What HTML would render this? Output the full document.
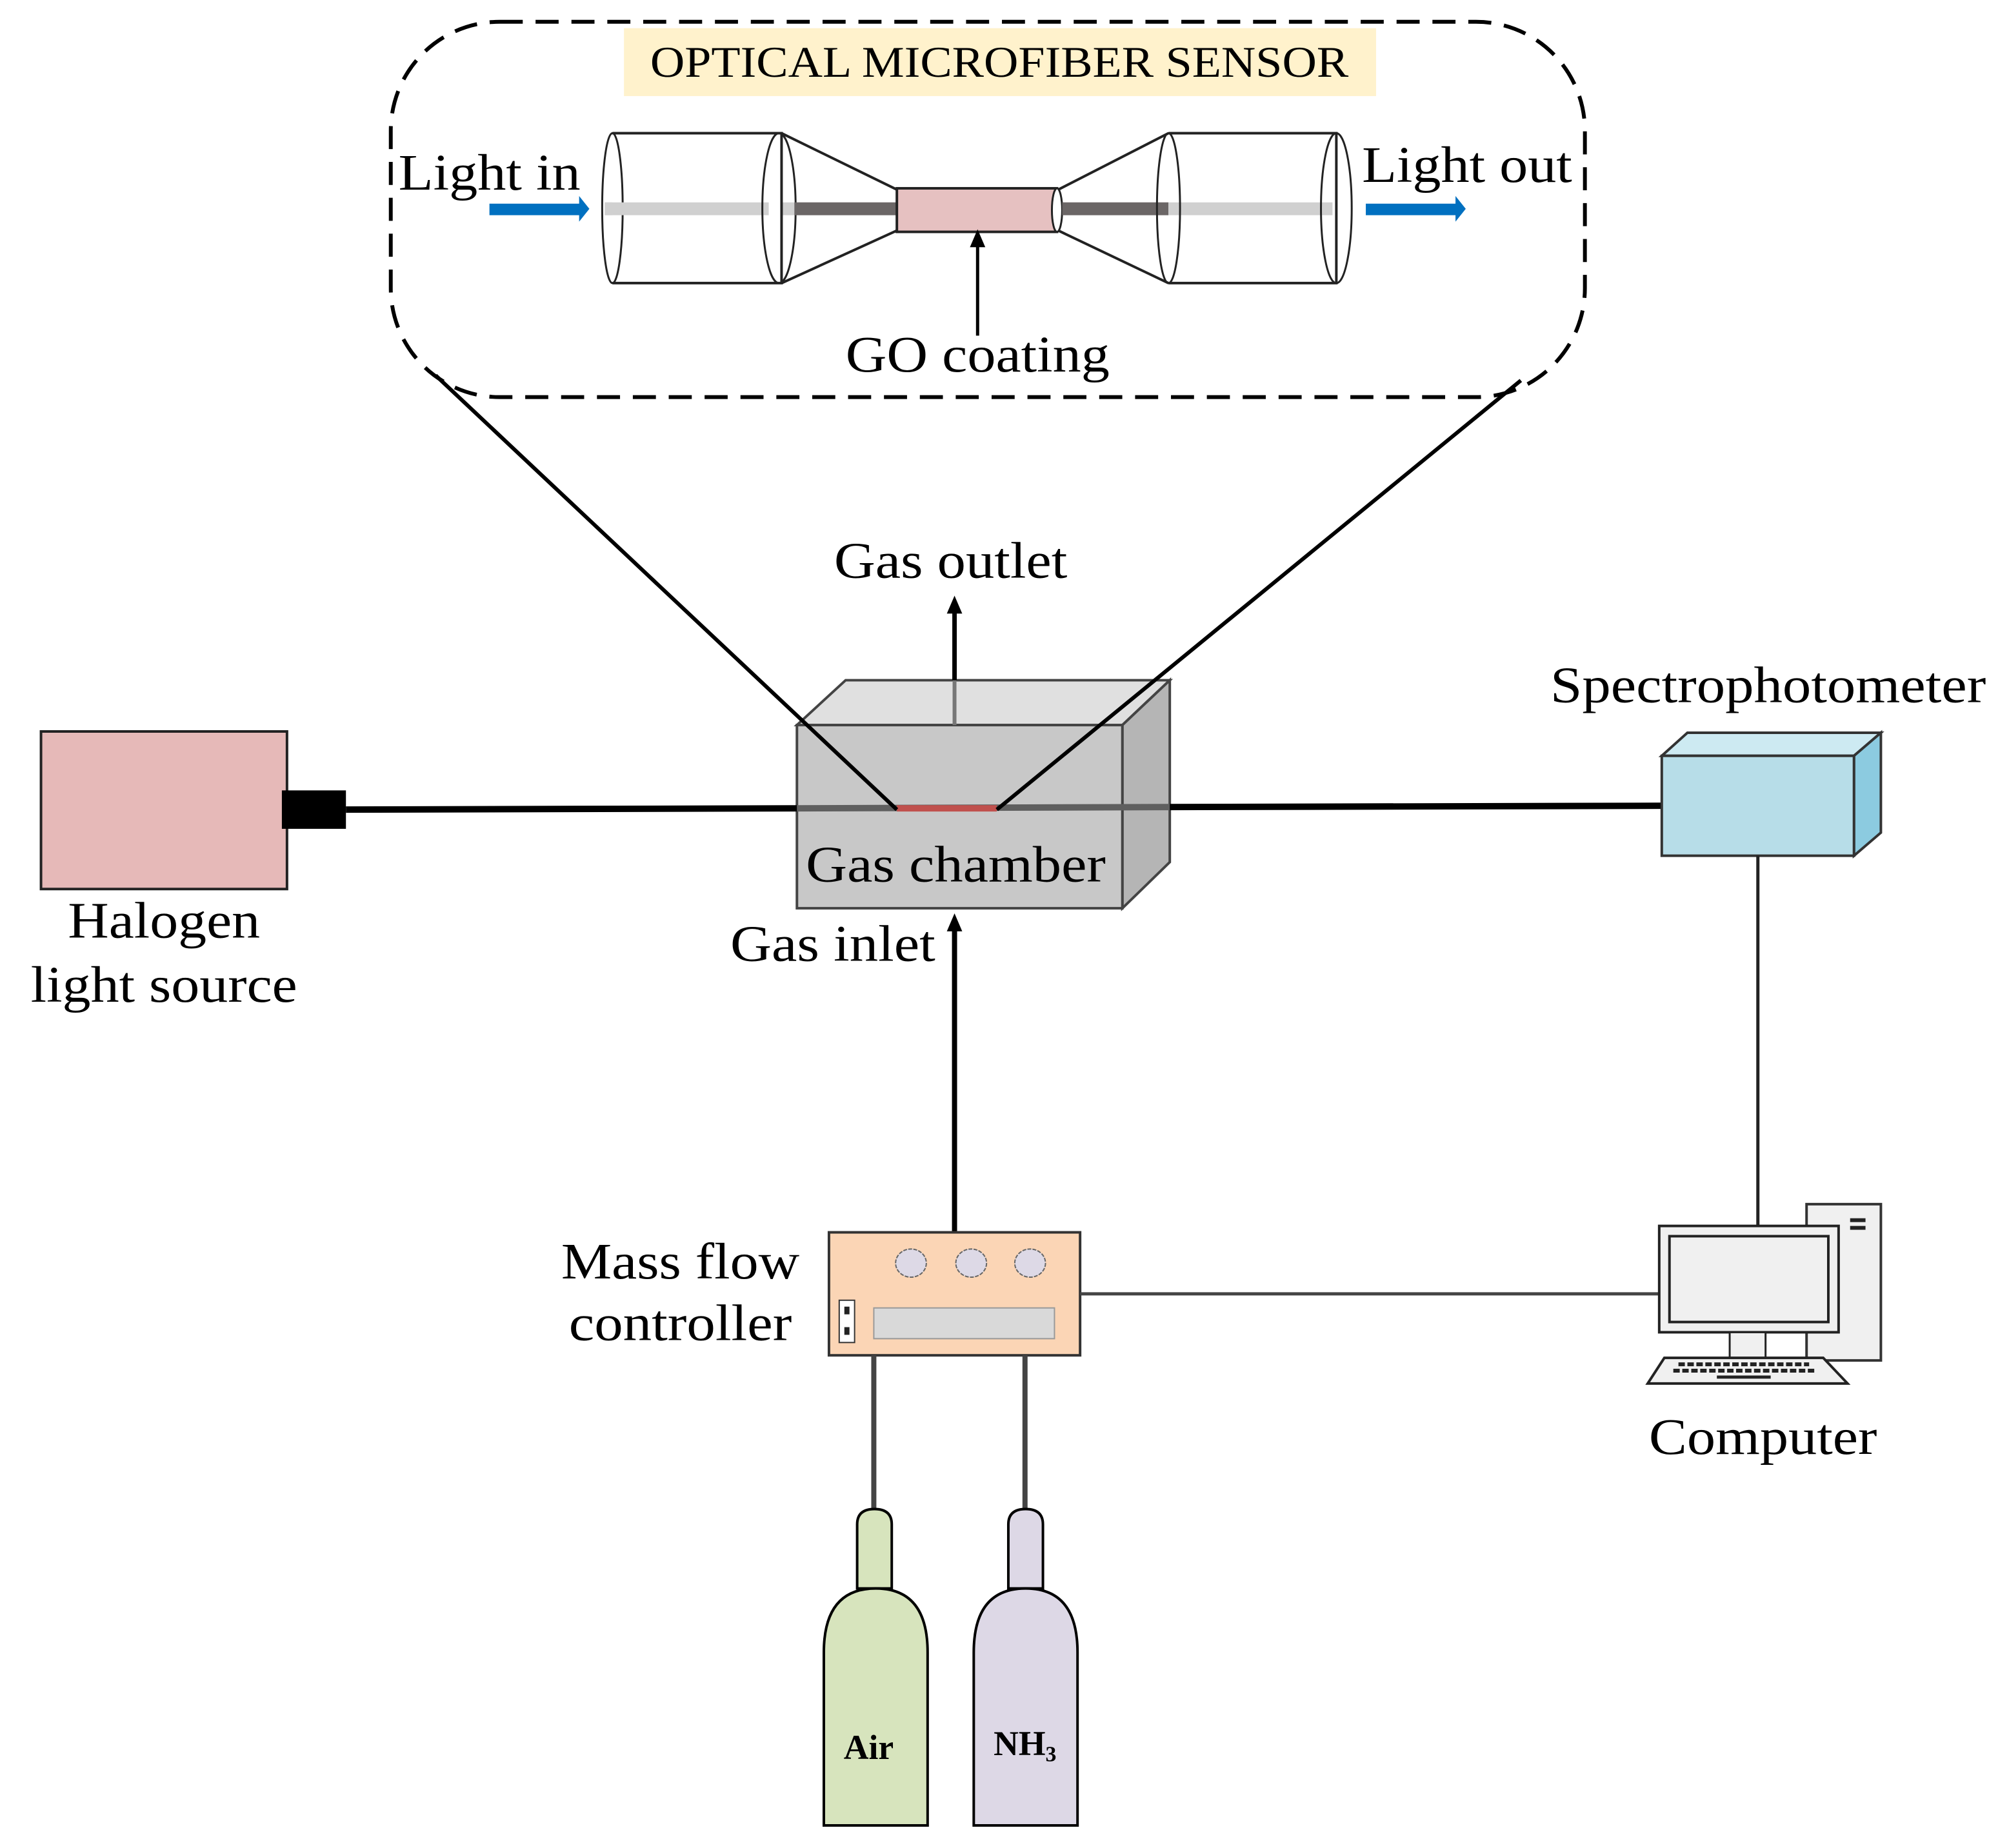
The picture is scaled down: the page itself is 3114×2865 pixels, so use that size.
<!DOCTYPE html>
<html><head><meta charset="utf-8"><style>
html,body{margin:0;padding:0;background:#fff}
svg{display:block}
text{font-family:"Liberation Serif",serif;fill:#000}
</style></head><body>
<svg width="3114" height="2865" viewBox="0 0 1568 1442.6" preserveAspectRatio="none" xmlns="http://www.w3.org/2000/svg">
<defs>
<marker id="ah" markerWidth="14" markerHeight="14" refX="7" refY="7" orient="auto" markerUnits="userSpaceOnUse" viewBox="0 0 14 14"><path d="M0,1 L14,7 L0,13 z" fill="#000"/></marker>
</defs>
<rect x="305" y="17" width="932" height="293" rx="85" ry="85" fill="none" stroke="#000" stroke-width="3" stroke-dasharray="18,10"/>
<rect x="487" y="22" width="587" height="53" fill="#fff2cc"/>
<text x="780" y="60" font-size="34" text-anchor="middle" textLength="545" lengthAdjust="spacingAndGlyphs">OPTICAL MICROFIBER SENSOR</text>
<line x1="472" y1="163" x2="1040" y2="163" stroke="#d0d0d0" stroke-width="10"/>
<path d="M478,104 L610,104 L610,221 L478,221" fill="#fff" stroke="#222" stroke-width="2"/>
<ellipse cx="478" cy="162.5" rx="8" ry="58.5" fill="none" stroke="#222" stroke-width="1.5"/>
<line x1="472" y1="163" x2="600" y2="163" stroke="#d0d0d0" stroke-width="10"/>
<ellipse cx="608" cy="162.5" rx="13" ry="58.5" fill="none" stroke="#222" stroke-width="1.5"/>
<path d="M610,104 L700,148 M610,221 L700,180" stroke="#222" stroke-width="2"/>
<line x1="620" y1="163" x2="700" y2="163" stroke="#6b6666" stroke-width="10"/>
<rect x="700" y="147" width="125" height="34" fill="#e6c1c1" stroke="#222" stroke-width="2"/>
<ellipse cx="825" cy="164" rx="4" ry="17" fill="#fff" stroke="#222" stroke-width="1.5"/>
<path d="M826,148 L912,104 M826,180 L912,221" stroke="#222" stroke-width="2"/>
<line x1="829" y1="163" x2="912" y2="163" stroke="#6b6666" stroke-width="10"/>
<path d="M912,104 L1043,104 L1043,221 L912,221" fill="#fff" stroke="#222" stroke-width="2"/>
<line x1="912" y1="163" x2="1040" y2="163" stroke="#d0d0d0" stroke-width="10"/>
<ellipse cx="912" cy="162.5" rx="9" ry="58.5" fill="none" stroke="#222" stroke-width="1.5"/>
<ellipse cx="1043" cy="162.5" rx="12" ry="58.5" fill="none" stroke="#222" stroke-width="1.5"/>
<path d="M382,159 L452,159 L452,153 L460,163 L452,173 L452,168 L382,168 z" fill="#0070c0"/>
<path d="M1066,159 L1136,159 L1136,153 L1144,163 L1136,173 L1136,168 L1066,168 z" fill="#0070c0"/>
<text x="311" y="148" font-size="40" textLength="142" lengthAdjust="spacingAndGlyphs">Light in</text>
<text x="1063" y="142" font-size="40" textLength="164" lengthAdjust="spacingAndGlyphs">Light out</text>
<line x1="763" y1="262" x2="763" y2="186" stroke="#000" stroke-width="2.5" marker-end="url(#ah)"/>
<text x="763" y="290" font-size="40" text-anchor="middle" textLength="206" lengthAdjust="spacingAndGlyphs">GO coating</text>
<polygon points="622,566 660,531 913,531 876,566" fill="#e0e0e0" stroke="#444" stroke-width="2"/>
<polygon points="876,566 913,531 913,673 876,709" fill="#b5b5b5" stroke="#444" stroke-width="2"/>
<rect x="622" y="566" width="254" height="143" fill="#c8c8c8" stroke="#444" stroke-width="2"/>
<line x1="745" y1="531" x2="745" y2="566" stroke="#777" stroke-width="3"/>
<line x1="270" y1="632" x2="622" y2="631" stroke="#000" stroke-width="5"/>
<line x1="622" y1="631" x2="913" y2="630" stroke="#5f5f5f" stroke-width="5"/>
<line x1="913" y1="630" x2="1297" y2="629" stroke="#000" stroke-width="5"/>
<line x1="700" y1="631" x2="778" y2="631" stroke="#c0504d" stroke-width="5"/>
<line x1="340" y1="293" x2="700" y2="632" stroke="#000" stroke-width="3"/>
<line x1="1187" y1="297" x2="778" y2="632" stroke="#000" stroke-width="3"/>
<line x1="745" y1="531" x2="745" y2="472" stroke="#000" stroke-width="3.5" marker-end="url(#ah)"/>
<text x="742" y="451" font-size="40" text-anchor="middle" textLength="182" lengthAdjust="spacingAndGlyphs">Gas outlet</text>
<text x="746" y="688" font-size="40" text-anchor="middle" textLength="234" lengthAdjust="spacingAndGlyphs">Gas chamber</text>
<line x1="745" y1="962" x2="745" y2="720" stroke="#000" stroke-width="4" marker-end="url(#ah)"/>
<text x="650" y="750" font-size="40" text-anchor="middle" textLength="160" lengthAdjust="spacingAndGlyphs">Gas inlet</text>
<rect x="32" y="571" width="192" height="123" fill="#e6b9b8" stroke="#222" stroke-width="2"/>
<rect x="220" y="617" width="50" height="30" fill="#000"/>
<text x="128" y="732" font-size="40" text-anchor="middle" textLength="150" lengthAdjust="spacingAndGlyphs">Halogen</text>
<text x="128" y="782" font-size="40" text-anchor="middle" textLength="208" lengthAdjust="spacingAndGlyphs">light source</text>
<polygon points="1297,590 1317,572 1468,572 1447,590" fill="#cdeaf2" stroke="#333" stroke-width="2"/>
<polygon points="1447,590 1468,572 1468,650 1447,668" fill="#8ccbe0" stroke="#333" stroke-width="2"/>
<rect x="1297" y="590" width="150" height="78" fill="#b7dde8" stroke="#333" stroke-width="2"/>
<text x="1380" y="548" font-size="40" text-anchor="middle" textLength="340" lengthAdjust="spacingAndGlyphs">Spectrophotometer</text>
<line x1="1372" y1="668" x2="1372" y2="960" stroke="#222" stroke-width="2.5"/>
<rect x="647" y="962" width="196" height="96" fill="#fbd5b5" stroke="#333" stroke-width="2"/>
<ellipse cx="711" cy="986" rx="12" ry="11" fill="#ddd9e6" stroke="#666" stroke-width="1" stroke-dasharray="3,1"/>
<ellipse cx="758" cy="986" rx="12" ry="11" fill="#ddd9e6" stroke="#666" stroke-width="1" stroke-dasharray="3,1"/>
<ellipse cx="804" cy="986" rx="12" ry="11" fill="#ddd9e6" stroke="#666" stroke-width="1" stroke-dasharray="3,1"/>
<rect x="682" y="1021" width="141" height="24" fill="#d9d9d9" stroke="#999" stroke-width="1"/>
<rect x="655" y="1015" width="12" height="33" fill="#fff" stroke="#333" stroke-width="1"/>
<rect x="659" y="1020" width="4" height="6" fill="#222"/><rect x="659" y="1036" width="4" height="6" fill="#222"/>
<text x="531" y="998" font-size="40" text-anchor="middle" textLength="186" lengthAdjust="spacingAndGlyphs">Mass flow</text>
<text x="531" y="1046" font-size="40" text-anchor="middle" textLength="174" lengthAdjust="spacingAndGlyphs">controller</text>
<line x1="843" y1="1010" x2="1295" y2="1010" stroke="#444" stroke-width="2.5"/>
<rect x="1410" y="940" width="58" height="122" fill="#f0f0f0" stroke="#333" stroke-width="2"/>
<rect x="1444" y="951" width="12" height="3" fill="#222"/><rect x="1444" y="957" width="12" height="3" fill="#222"/>
<rect x="1295" y="957" width="140" height="83" fill="#f0f0f0" stroke="#222" stroke-width="2"/>
<rect x="1303" y="965" width="124" height="67" fill="#f0f0f0" stroke="#222" stroke-width="2"/>
<rect x="1350" y="1040" width="28" height="20" fill="#f0f0f0" stroke="#222" stroke-width="1.5"/>
<polygon points="1299,1060 1423,1060 1442,1080 1286,1080" fill="#f0f0f0" stroke="#222" stroke-width="2"/>
<line x1="1310" y1="1065" x2="1412" y2="1065" stroke="#222" stroke-width="3" stroke-dasharray="5,2"/>
<line x1="1306" y1="1070" x2="1416" y2="1070" stroke="#222" stroke-width="3" stroke-dasharray="5,2"/>
<line x1="1340" y1="1075" x2="1382" y2="1075" stroke="#222" stroke-width="2.5"/>
<text x="1376" y="1135" font-size="40" text-anchor="middle" textLength="178" lengthAdjust="spacingAndGlyphs">Computer</text>
<line x1="682" y1="1058" x2="682" y2="1180" stroke="#444" stroke-width="4"/>
<line x1="800" y1="1058" x2="800" y2="1180" stroke="#444" stroke-width="4"/>
<path d="M669,1240 L669,1190 Q669,1178 682.5,1178 Q696,1178 696,1190 L696,1240 z" fill="#d7e4bd" stroke="#000" stroke-width="2"/>
<path d="M643,1425 L643,1290 Q643,1240 683.5,1240 Q724,1240 724,1290 L724,1425 z" fill="#d7e4bd" stroke="#000" stroke-width="2"/>
<path d="M787,1240 L787,1190 Q787,1178 800.5,1178 Q814,1178 814,1190 L814,1240 z" fill="#ddd8e6" stroke="#000" stroke-width="2"/>
<path d="M760,1425 L760,1290 Q760,1240 800.5,1240 Q841,1240 841,1290 L841,1425 z" fill="#ddd8e6" stroke="#000" stroke-width="2"/>
<text x="678" y="1373" font-size="27" font-weight="bold" text-anchor="middle">Air</text>
<text x="800" y="1370" font-size="27" font-weight="bold" text-anchor="middle">NH<tspan font-size="17" dy="5">3</tspan></text>
</svg>
</body></html>
